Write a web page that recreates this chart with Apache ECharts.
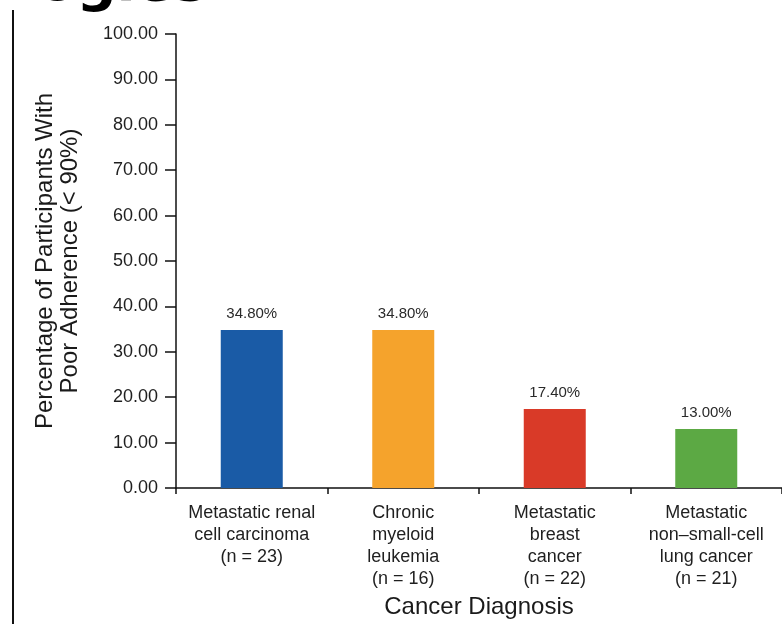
<!DOCTYPE html>
<html>
<head>
<meta charset="utf-8">
<script src="https://cdn.jsdelivr.net/npm/echarts@6/dist/echarts.min.js"></script>
<style>
  html, body { margin: 0; padding: 0; background: #fff; }
  #chart { width: 782px; height: 624px; }
</style>
</head>
<body>
<div id="chart"></div>
<script>
const categories = [
    'Metastatic renal\ncell carcinoma\n(n = 23)',
    'Chronic\nmyeloid\nleukemia\n(n = 16)',
    'Metastatic\nbreast\ncancer\n(n = 22)',
    'Metastatic\nnon–small-cell\nlung cancer\n(n = 21)'
];
const values = [34.8, 34.8, 17.4, 13.0];
const barColors = ['#1a5ba6', '#f5a32c', '#d93a28', '#5ca944'];
const yMin = 0, yMax = 100, yStep = 10;

const chart = echarts.init(document.getElementById('chart'));
const font = "'Liberation Sans', Arial, sans-serif";

const option = {
    animation: false,
    textStyle: { fontFamily: font },
    grid: { left: 176, right: -1, top: 34, bottom: 136, containLabel: false },
    graphic: [
        {
            type: 'text',
            left: 38,
            top: -43,
            style: { text: 'ogies', font: "bold 56px 'DejaVu Sans', sans-serif", fill: '#000' }
        },
        {
            type: 'line',
            shape: { x1: 13, y1: 10, x2: 13, y2: 624 },
            style: { stroke: '#111', lineWidth: 2 }
        }
    ],
    xAxis: {
        type: 'category',
        data: categories,
        name: 'Cancer Diagnosis',
        nameLocation: 'middle',
        nameGap: 107,
        nameTextStyle: { fontSize: 24, color: '#1a1a1a', fontFamily: font },
        axisLine: { lineStyle: { color: '#111', width: 1.5 } },
        axisTick: { show: true, length: 6, lineStyle: { color: '#111', width: 1.5 } },
        axisLabel: { interval: 0, fontSize: 18, lineHeight: 22, color: '#1f1f1f', margin: 14 }
    },
    yAxis: {
        type: 'value',
        min: yMin,
        max: yMax,
        interval: yStep,
        name: 'Percentage of Participants With\nPoor Adherence (< 90%)',
        nameLocation: 'middle',
        nameRotate: 90,
        nameGap: 93,
        nameTextStyle: { fontSize: 24, lineHeight: 25, color: '#1a1a1a', fontFamily: font },
        splitLine: { show: false },
        axisLine: { show: true, lineStyle: { color: '#111', width: 1.5 } },
        axisTick: { show: true, length: 11, lineStyle: { color: '#111', width: 1.5 } },
        axisLabel: {
            fontSize: 18,
            color: '#1f1f1f',
            margin: 18,
            formatter: v => v.toFixed(2)
        }
    },
    series: [
        {
            type: 'bar',
            barWidth: 62,
            data: values.map((v, i) => ({ value: v, itemStyle: { color: barColors[i] } })),
            label: {
                show: true,
                position: 'top',
                distance: 9,
                fontSize: 15,
                color: '#2a2a2a',
                formatter: p => p.value.toFixed(2) + '%'
            }
        }
    ]
};

chart.setOption(option);
</script>
</body>
</html>
